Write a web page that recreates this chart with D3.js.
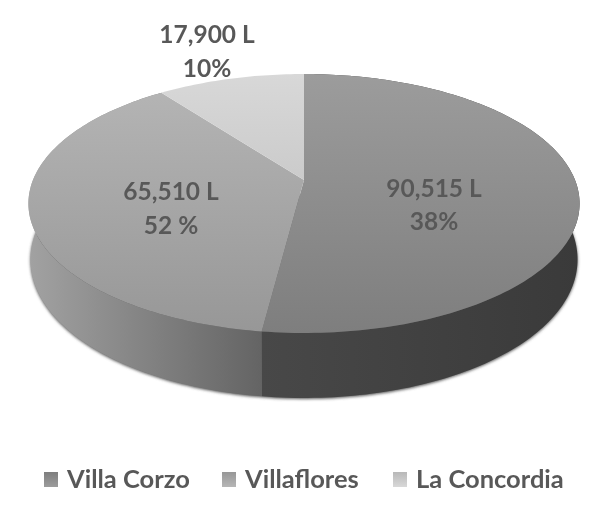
<!DOCTYPE html>
<html>
<head>
<meta charset="utf-8">
<script src="https://cdn.jsdelivr.net/npm/d3@7"></script>
<style>
  html, body { margin: 0; padding: 0; background: #fff; }
  text { font-family: Lato, "Open Sans", sans-serif; font-weight: 700; fill: #595959; }
</style>
</head>
<body>
<div id="chart"></div>
<script>
// values (percent labels kept as printed in the original)
var categories = ["Villa Corzo", "Villaflores", "La Concordia"];
var litres = [90515, 65510, 17900];
var litreLabels = ["90,515 L", "65,510 L", "17,900 L"];
var percentLabels = ["38%", "52 %", "10%"];

var width = 608, height = 525;
var cx = 304, cy = 180;       // where the slices meet
var scaleX = 271, scaleY = 125.2, persp = 0.1815;

var topStops = [["#9c9c9c", "#7e7e7e"], ["#b6b6b6", "#979797"], ["#d8d8d8", "#b8b8b8"]];
var sideStops = [["#484848", "#3a3a3a"], ["#a2a2a2", "#646464"], ["#bbb", "#bbb"]];
var labelPos = [[434, 188, 221], [171, 191, 225], [207, 34, 68]];
var legendX = [44, 222, 393];

var svg = d3.select("#chart").append("svg")
  .attr("width", width)
  .attr("height", height)
  .style("display", "block");

var defs = svg.append("defs");
defs.append("filter").attr("id", "soft")
  .attr("x", "-5%").attr("y", "-5%").attr("width", "110%").attr("height", "110%")
  .append("feGaussianBlur").attr("stdDeviation", 1.6);
// the source picture is a slightly soft scan
defs.append("filter").attr("id", "textSoft")
  .attr("x", "-5%").attr("y", "-5%").attr("width", "110%").attr("height", "110%")
  .append("feGaussianBlur").attr("stdDeviation", 0.4);

// tilted circle: angle 0 at the back, clockwise, front edge closer to the viewer
function project(angle, drop) {
  var u = Math.sin(angle), v = -Math.cos(angle);
  var w = 1 - persp * v;
  var sx = drop ? scaleX - 2 : scaleX;
  return [cx + sx * u / w, cy + scaleY * v / w + (drop ? 54 + 11 * v : 0)];
}

function rim(a0, a1, drop) {
  var n = Math.max(2, Math.ceil(Math.abs(a1 - a0) / 0.02));
  return d3.range(n + 1).map(function (i) {
    return project(a0 + (a1 - a0) * i / n, drop);
  });
}

var line = d3.line();
var pie = d3.pie().sort(null).value(function (d) { return d; });
var slices = pie(litres);

slices.forEach(function (d, i) {
  var gt = defs.append("linearGradient").attr("id", "top" + i)
    .attr("gradientUnits", "userSpaceOnUse")
    .attr("x1", 0).attr("x2", 0).attr("y1", 74).attr("y2", 333);
  gt.append("stop").attr("offset", 0).attr("stop-color", topStops[i][0]);
  gt.append("stop").attr("offset", 1).attr("stop-color", topStops[i][1]);

  var xs = d3.extent(rim(d.startAngle, d.endAngle, false), function (p) { return p[0]; });
  var gs = defs.append("linearGradient").attr("id", "side" + i)
    .attr("gradientUnits", "userSpaceOnUse")
    .attr("y1", 0).attr("y2", 0)
    .attr("x1", i == 0 ? xs[0] : 28).attr("x2", i == 0 ? 580 : xs[1]);
  gs.append("stop").attr("offset", 0).attr("stop-color", sideStops[i][0]);
  gs.append("stop").attr("offset", 1).attr("stop-color", sideStops[i][1]);

  var lg = defs.append("linearGradient").attr("id", "key" + i)
    .attr("x1", 0).attr("x2", 0).attr("y1", 0).attr("y2", 1);
  lg.append("stop").attr("offset", 0).attr("stop-color", topStops[i][1]);
  lg.append("stop").attr("offset", 1).attr("stop-color", topStops[i][0]);
});

// blurred dark outline under the side wall
svg.append("path")
  .attr("d", line(rim(Math.PI * 0.4, Math.PI * 1.6, true).map(function (p) { return [p[0], p[1] + 1]; })) + "Z")
  .attr("fill", "#555")
  .attr("filter", "url(#soft)");

// side wall, then the top surface over it
svg.selectAll("path.side")
  .data(slices.slice(0, 2))
  .enter().append("path")
  .attr("class", "side")
  .attr("d", function (d) {
    var a = rim(d.startAngle, d.endAngle, false);
    var b = rim(d.endAngle, d.startAngle, true);
    return line(a.concat(b)) + "Z";
  })
  .attr("fill", function (d, i) { return "url(#side" + i + ")"; });

svg.selectAll("path.top")
  .data(slices)
  .enter().append("path")
  .attr("class", "top")
  .attr("d", function (d) {
    return line([[cx, cy]].concat(rim(d.startAngle, d.endAngle, false))) + "Z";
  })
  .attr("fill", function (d, i) { return "url(#top" + i + ")"; });

// data labels
var labels = svg.selectAll("g.label")
  .data(categories)
  .enter().append("g")
  .attr("class", "label")
  .attr("text-anchor", "middle")
  .attr("filter", "url(#textSoft)")
  .style("font-size", "24.5px");

labels.append("text")
  .attr("x", function (d, i) { return labelPos[i][0]; })
  .attr("y", function (d, i) { return labelPos[i][1] + 9; })
  .text(function (d, i) { return litreLabels[i]; });

labels.append("text")
  .attr("x", function (d, i) { return labelPos[i][0]; })
  .attr("y", function (d, i) { return labelPos[i][2] + 9; })
  .text(function (d, i) { return percentLabels[i]; });

// legend
var legend = svg.selectAll("g.key")
  .data(categories)
  .enter().append("g")
  .attr("class", "key")
  .attr("filter", "url(#textSoft)")
  .attr("transform", function (d, i) { return "translate(" + legendX[i] + ",472)"; });

legend.append("rect")
  .attr("width", 14)
  .attr("height", 15)
  .attr("fill", function (d, i) { return "url(#key" + i + ")"; });

legend.append("text")
  .attr("x", 23)
  .attr("y", 16)
  .style("font-size", "25.5px")
  .text(function (d) { return d; });
</script>
</body>
</html>
